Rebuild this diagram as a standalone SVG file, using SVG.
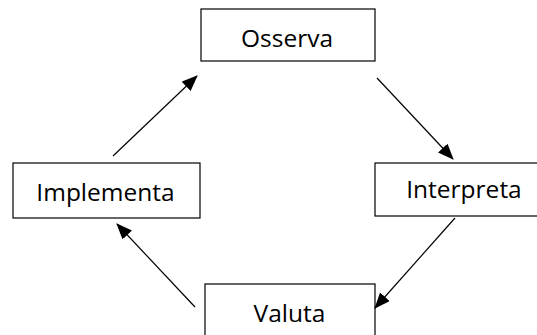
<svg xmlns="http://www.w3.org/2000/svg" width="537" height="335" viewBox="0 0 537 335">
<style>
.box{fill:#fff;stroke:#000;stroke-width:1.2}
.lbl{font-family:"Open Sans","Noto Sans",sans-serif;font-size:24.5px;fill:#000;text-anchor:middle}
.edge{stroke:#000;stroke-width:1.2;fill:none;marker-end:url(#ah)}
</style>
<defs>
<marker id="ah" markerWidth="16" markerHeight="13" refX="15" refY="6.5" orient="auto" markerUnits="userSpaceOnUse">
<path d="M0,0 L16,6.5 L0,13 Z" fill="#000"/>
</marker>
</defs>
<rect width="537" height="335" fill="#fff"/>
<g id="osserva"><rect class="box" x="201" y="9" width="174" height="52"/><text class="lbl" x="287" y="47">Osserva</text></g>
<g id="implementa"><rect class="box" x="13" y="163" width="187" height="55"/><text class="lbl" x="105.5" y="201">Implementa</text></g>
<g id="interpreta"><rect class="box" x="375" y="163" width="170" height="53"/><text class="lbl" x="464" y="198">Interpreta</text></g>
<g id="valuta"><rect class="box" x="205" y="284" width="170" height="60"/><text class="lbl" x="289.5" y="322">Valuta</text></g>
<g id="connectors">
<line class="edge" x1="113" y1="156" x2="197" y2="76"/>
<line class="edge" x1="377" y1="78" x2="453" y2="159"/>
<line class="edge" x1="455" y1="218" x2="375" y2="308"/>
<line class="edge" x1="195" y1="307" x2="117" y2="224"/>
</g>
</svg>
